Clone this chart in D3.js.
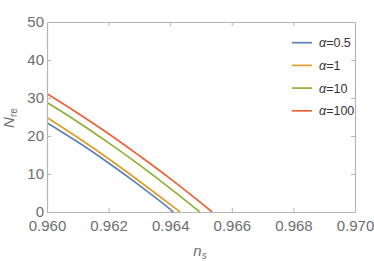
<!DOCTYPE html>
<html>
<head>
<meta charset="utf-8">
<script src="https://cdn.jsdelivr.net/npm/d3@7"></script>
<style>
  body { margin: 0; background: #fff; }
  svg { display: block; font-family: "Liberation Sans", Arial, sans-serif; }
</style>
</head>
<body>
<div id="chart-container"></div>
<script>
// data
const nsValues = [0.960, 0.961, 0.962, 0.963, 0.964, 0.965];
const alphaLabels = ["0.5", "1", "10", "100"];
const colors = ["#5E81B5", "#E19C24", "#8FB032", "#EB6235"];
const nreA05 = [23.5, 18.4, 12.9, 7.0, 0.7];
const nreA1 = [24.9, 19.6, 14.0, 8.1, 2.0];
const nreA10 = [28.8, 23.7, 18.2, 12.4, 6.2];
const nreA100 = [31.1, 26.0, 20.6, 14.8, 8.8, 2.4];
const zeroNs = [0.96410, 0.96432, 0.96496, 0.96536];
const xTicks = [0.960, 0.962, 0.964, 0.966, 0.968, 0.970];
const yTicks = [0, 10, 20, 30, 40, 50];

const seriesVals = [nreA05, nreA1, nreA10, nreA100];
const series = seriesVals.map((vals, i) => {
  const pts = vals.map((v, j) => [nsValues[j], v]);
  pts.push([zeroNs[i], 0]);
  return pts;
});

const w = 374;
const h = 261;
const margin = { left: 47, right: 19, top: 22, bottom: 49 };

const svg = d3
  .select("#chart-container")
  .append("svg")
  .attr("width", w)
  .attr("height", h);

const xScale = d3
  .scaleLinear()
  .domain([0.960, 0.970])
  .range([margin.left, w - margin.right]);

const yScale = d3
  .scaleLinear()
  .domain([0, 50])
  .range([h - margin.bottom, margin.top]);

const frameColor = "#b5b5b5";
const textColor = "#6e6e6e";

// curves
const line = d3
  .line()
  .x((d) => xScale(d[0]))
  .y((d) => yScale(d[1]))
  .curve(d3.curveMonotoneX);

svg
  .append("defs")
  .append("clipPath")
  .attr("id", "clip")
  .append("rect")
  .attr("x", margin.left)
  .attr("y", margin.top)
  .attr("width", w - margin.left - margin.right)
  .attr("height", h - margin.top - margin.bottom);

svg
  .append("g")
  .attr("clip-path", "url(#clip)")
  .selectAll("path")
  .data(series)
  .enter()
  .append("path")
  .attr("d", line)
  .attr("fill", "none")
  .attr("stroke", (d, i) => colors[i])
  .attr("stroke-width", 1.7);

// axes (frame on all sides, inward ticks)
const bottomAxis = svg
  .append("g")
  .attr("transform", "translate(0," + (h - margin.bottom) + ")")
  .call(d3.axisBottom(xScale).tickValues(xTicks).tickFormat(d3.format(".3f")).tickSizeInner(-4).tickSizeOuter(0).tickPadding(8));

const topAxis = svg
  .append("g")
  .attr("transform", "translate(0," + margin.top + ")")
  .call(d3.axisTop(xScale).tickValues(xTicks).tickFormat("").tickSizeInner(-4).tickSizeOuter(0));

const leftAxis = svg
  .append("g")
  .attr("transform", "translate(" + margin.left + ",0)")
  .call(d3.axisLeft(yScale).tickValues(yTicks).tickSizeInner(-4).tickSizeOuter(0).tickPadding(3));

const rightAxis = svg
  .append("g")
  .attr("transform", "translate(" + (w - margin.right) + ",0)")
  .call(d3.axisRight(yScale).tickValues(yTicks).tickFormat("").tickSizeInner(-4).tickSizeOuter(0));

[bottomAxis, topAxis, leftAxis, rightAxis].forEach((g) => {
  g.select(".domain").attr("stroke", frameColor).attr("stroke-width", 1.2);
  g.selectAll(".tick line").attr("stroke", frameColor);
  g.selectAll(".tick text")
    .attr("fill", textColor)
    .style("font-size", "15px")
    .style("font-family", "'Liberation Sans', Arial, sans-serif");
});
// hide ticks at the corners
[bottomAxis, topAxis].forEach((g) => g.selectAll(".tick line").filter((d) => d === 0.960 || d === 0.970).remove());
[leftAxis, rightAxis].forEach((g) => g.selectAll(".tick line").filter((d) => d === 0 || d === 50).remove());

// axis titles
const xt = svg
  .append("text")
  .attr("x", 200)
  .attr("y", 256)
  .attr("text-anchor", "middle")
  .attr("fill", textColor)
  .style("font-size", "15px")
  .style("font-style", "italic");
xt.append("tspan").text("n");
xt.append("tspan").attr("dy", 3).style("font-size", "10px").text("s");

const yt = svg
  .append("text")
  .attr("transform", "translate(14,118) rotate(-90)")
  .attr("text-anchor", "middle")
  .attr("fill", textColor)
  .style("font-size", "15px");
yt.append("tspan").style("font-style", "italic").text("N");
yt.append("tspan").attr("dy", 3).style("font-size", "10px").text("re");

// legend
const legend = svg
  .selectAll(".legend")
  .data(alphaLabels)
  .enter()
  .append("g")
  .attr("class", "legend")
  .attr("transform", (d, i) => "translate(292," + (42.7 + i * 22.7) + ")");

legend
  .append("line")
  .attr("x1", 0)
  .attr("x2", 20)
  .attr("stroke", (d, i) => colors[i])
  .attr("stroke-width", 1.7);

const lt = legend
  .append("text")
  .attr("x", 27)
  .attr("y", 4.5)
  .attr("fill", "#333")
  .style("font-size", "12.5px");
lt.append("tspan").style("font-style", "italic").text("α");
lt.append("tspan").text((d) => "=" + d);
</script>
</body>
</html>
